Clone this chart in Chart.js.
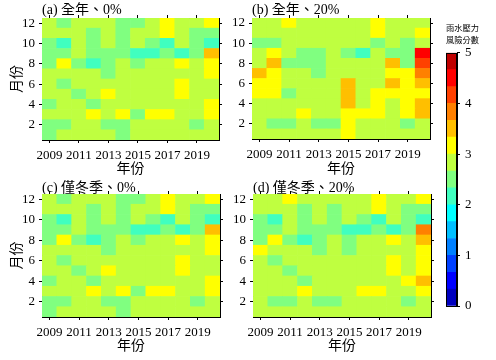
<!DOCTYPE html>
<html>
<head>
<meta charset="utf-8">
<script src="https://cdn.jsdelivr.net/npm/chart.js@4.4.0/dist/chart.umd.min.js"></script>
<style>
  body { margin: 0; background: #fff; }
  #wrap { position: relative; width: 496px; height: 360px; overflow: hidden; }
  canvas { position: absolute; }
</style>
</head>
<body>
<div id="wrap">
  <canvas id="panelA"></canvas>
  <canvas id="panelB"></canvas>
  <canvas id="panelC"></canvas>
  <canvas id="panelD"></canvas>
  <canvas id="colorBar"></canvas>
</div>
<script>
const years = ['2009', '2010', '2011', '2012', '2013', '2014', '2015', '2016', '2017', '2018', '2019', '2020'];
const months = [1, 2, 3, 4, 5, 6, 7, 8, 9, 10, 11, 12];
const monthTicks = [2, 4, 6, 8, 10, 12];
const scoreTicks = [0, 1, 2, 3, 4, 5];
const levelColors = ['#0000bf', '#0000ff', '#0040ff', '#0080ff', '#00bfff', '#00ffff', '#40ffbf', '#80ff80',
    '#bfff40', '#ffff00', '#ffbf00', '#ff8000', '#ff4000', '#ff0000', '#bf0000'];

// risk score per month (row = month 1..12), columns = years 2009..2020
const allYear0 = [
    [2.5, 2.8, 2.8, 2.8, 2.8, 2.5, 2.8, 2.8, 2.8, 2.8, 2.8, 2.8],
    [2.5, 2.5, 2.8, 2.8, 2.5, 2.5, 2.8, 2.8, 2.8, 2.8, 2.5, 2.8],
    [2.8, 2.8, 2.8, 3.2, 2.8, 3.2, 2.5, 3.2, 3.2, 2.8, 2.8, 3.2],
    [2.5, 2.8, 2.8, 2.5, 2.8, 2.8, 2.8, 2.8, 2.8, 2.8, 2.8, 3.2],
    [2.8, 2.8, 2.5, 2.8, 3.2, 2.8, 2.8, 2.8, 2.8, 3.2, 2.8, 2.8],
    [2.8, 2.5, 2.8, 2.8, 2.8, 2.8, 2.8, 2.8, 2.8, 3.2, 2.8, 2.8],
    [2.8, 2.8, 2.8, 2.8, 2.5, 2.8, 2.8, 2.8, 2.8, 2.8, 2.8, 3.2],
    [2.5, 3.2, 2.5, 2.2, 2.5, 2.8, 2.5, 2.8, 2.8, 3.2, 2.8, 3.2],
    [2.5, 2.5, 2.8, 2.5, 2.5, 2.5, 2.2, 2.2, 2.5, 2.2, 2.5, 3.5],
    [2.5, 2.2, 2.8, 2.5, 2.8, 2.5, 2.8, 2.5, 2.2, 2.8, 2.5, 2.2],
    [2.8, 2.8, 2.8, 2.5, 2.8, 2.5, 2.8, 2.8, 3.2, 2.8, 2.5, 2.5],
    [2.8, 2.5, 2.8, 2.8, 2.8, 2.5, 2.5, 2.8, 3.2, 2.8, 2.8, 3.2]
];

const allYear20 = [
    [2.8, 2.8, 2.8, 2.8, 2.8, 2.8, 3.2, 2.8, 2.8, 2.8, 2.8, 2.8],
    [2.8, 2.5, 2.5, 2.8, 2.5, 2.5, 3.2, 2.8, 2.8, 2.8, 2.5, 2.8],
    [2.8, 2.8, 2.8, 3.2, 2.8, 2.8, 3.2, 3.2, 3.2, 2.8, 3.2, 3.5],
    [2.8, 2.8, 2.8, 2.8, 2.8, 2.8, 3.5, 2.8, 3.2, 2.8, 3.2, 3.5],
    [3.2, 3.2, 2.5, 2.8, 2.8, 2.8, 3.5, 2.8, 3.2, 3.2, 3.2, 3.2],
    [3.2, 3.2, 2.8, 2.8, 2.8, 2.8, 3.5, 2.8, 2.8, 3.5, 3.2, 3.5],
    [3.5, 3.2, 2.8, 2.8, 2.5, 2.8, 2.8, 2.8, 2.8, 3.2, 3.2, 3.8],
    [2.8, 3.5, 2.5, 2.5, 2.5, 2.8, 2.8, 2.8, 2.8, 3.5, 2.5, 4.2],
    [2.8, 3.2, 2.8, 2.5, 2.5, 2.8, 2.5, 2.2, 2.8, 2.5, 2.5, 4.5],
    [2.5, 2.5, 2.8, 2.8, 2.8, 2.8, 2.8, 2.8, 2.5, 2.8, 2.5, 2.8],
    [2.8, 2.8, 2.8, 2.8, 2.8, 2.8, 2.8, 2.8, 3.2, 2.8, 2.8, 3.2],
    [2.8, 2.8, 3.2, 2.8, 2.8, 2.8, 2.8, 2.8, 3.2, 2.8, 2.8, 2.8]
];

const winter0 = allYear0;

const winter20 = [
    [2.8, 2.8, 2.8, 2.8, 2.8, 2.8, 2.8, 2.8, 2.8, 2.8, 2.8, 2.8],
    [2.8, 2.5, 2.5, 2.8, 2.5, 2.5, 2.8, 2.8, 2.8, 2.8, 2.5, 2.8],
    [2.8, 2.8, 2.8, 3.2, 2.8, 2.8, 2.8, 3.2, 3.2, 2.8, 2.8, 3.2],
    [2.8, 2.8, 2.8, 2.5, 2.8, 2.8, 2.8, 2.8, 2.8, 2.8, 3.2, 3.5],
    [2.8, 2.8, 2.5, 2.8, 2.8, 2.8, 2.8, 2.8, 2.8, 3.2, 2.8, 3.2],
    [2.8, 2.5, 2.8, 2.8, 2.8, 2.8, 2.8, 2.8, 2.8, 3.2, 2.8, 3.2],
    [3.2, 2.8, 2.8, 2.8, 2.5, 2.8, 2.5, 2.8, 2.8, 2.8, 2.8, 3.2],
    [2.5, 3.2, 2.5, 2.2, 2.5, 2.8, 2.5, 2.8, 2.8, 3.2, 2.8, 3.5],
    [2.5, 2.5, 2.8, 2.5, 2.5, 2.5, 2.2, 2.2, 2.5, 2.2, 2.5, 3.8],
    [2.5, 2.2, 2.8, 2.5, 2.8, 2.5, 2.8, 2.5, 2.2, 2.8, 2.5, 2.2],
    [2.8, 2.8, 2.8, 2.5, 2.8, 2.5, 2.8, 2.8, 3.2, 2.8, 2.5, 2.5],
    [2.8, 2.8, 3.2, 2.8, 2.8, 2.8, 2.8, 2.8, 3.2, 2.8, 2.8, 3.2]
];

const serif = "'Liberation Serif', 'Times New Roman', serif";
const cjk = "'Liberation Serif', 'Noto Sans CJK TC', serif";

function colorFor(v) {
    return levelColors[Math.max(0, Math.min(levelColors.length - 1, Math.floor(v * 3)))];
}

function place(canvas, box) {
    canvas.width = box.w;
    canvas.height = box.h;
    canvas.style.left = box.left + 'px';
    canvas.style.top = box.top + 'px';
}

function makePanel(id, title, grid, box, yTitle) {
    const canvas = document.getElementById(id);
    place(canvas, box);
    const monthAxis = function (scale) {
        scale.ticks = monthTicks.map(v => ({value: v}));
    };
    const yearTickColor = function (c) {
        return c.index % 2 === 0 ? '#000' : 'rgba(0,0,0,0)';
    };
    return new Chart(canvas, {
        type: 'bar',
        data: {
            labels: years,
            datasets: months.map((m, i) => ({
                label: 'month ' + m,
                data: years.map(() => [m - 0.5, m + 0.5]),
                backgroundColor: grid[i].map(colorFor),
                borderWidth: 0,
                grouped: false,
                barPercentage: 1,
                categoryPercentage: 1
            }))
        },
        options: {
            responsive: false,
            animation: false,
            devicePixelRatio: 1,
            layout: {padding: 0},
            plugins: {legend: {display: false}, tooltip: {enabled: false}},
            scales: {
                x: {
                    type: 'category',
                    position: 'bottom',
                    offset: true,
                    grid: {offset: false, drawOnChartArea: false, tickLength: 3, tickColor: yearTickColor},
                    border: {color: '#000'},
                    ticks: {
                        autoSkip: false, maxRotation: 0, minRotation: 0, padding: 5, color: '#000',
                        font: {family: serif, size: 13},
                        callback: function (val, i) {
                            return i % 2 === 0 ? this.getLabelForValue(val) : '';
                        }
                    },
                    title: {display: true, text: '年份', color: '#000', font: {family: cjk, size: 14},
                        padding: {top: 0, bottom: box.xTitlePad}},
                    afterFit: s => { s.height = box.h - box.topH - box.areaH; }
                },
                x2: {
                    type: 'category',
                    position: 'top',
                    offset: true,
                    grid: {offset: false, drawOnChartArea: false, tickLength: 3, tickColor: yearTickColor},
                    border: {color: '#000'},
                    ticks: {display: false},
                    title: {display: true, text: title, align: 'start', color: '#000',
                        font: {family: cjk, size: 14}, padding: {top: box.titlePad, bottom: 0}},
                    afterFit: s => { s.height = box.topH; }
                },
                y: {
                    type: 'linear',
                    position: 'left',
                    min: 0.5,
                    max: 12.5,
                    afterBuildTicks: monthAxis,
                    grid: {drawOnChartArea: false, tickLength: 3, tickColor: '#000'},
                    border: {color: '#000'},
                    ticks: {padding: 4, color: '#000', font: {family: serif, size: 13}},
                    title: {display: yTitle, text: '月份', color: '#000', font: {family: cjk, size: 14},
                        padding: {top: 9, bottom: 0}},
                    afterFit: s => { s.width = box.yW; }
                },
                y2: {
                    type: 'linear',
                    position: 'right',
                    min: 0.5,
                    max: 12.5,
                    afterBuildTicks: monthAxis,
                    grid: {drawOnChartArea: false, tickLength: 3, tickColor: '#000'},
                    border: {color: '#000'},
                    ticks: {display: false},
                    afterFit: s => { s.width = box.w - box.yW - box.areaW; }
                }
            }
        }
    });
}

makePanel('panelA', '(a) 全年、0%', allYear0,
    {left: 0, top: 0, w: 236, h: 178, yW: 42, topH: 18, areaW: 177, areaH: 122, titlePad: 2, xTitlePad: 0}, true);
makePanel('panelB', '(b) 全年、20%', allYear20,
    {left: 224, top: 0, w: 216, h: 178, yW: 28, topH: 18, areaW: 178, areaH: 121, titlePad: 2, xTitlePad: 0}, false);
makePanel('panelC', '(c) 僅冬季、0%', winter0,
    {left: 0, top: 178, w: 236, h: 182, yW: 42, topH: 16, areaW: 178, areaH: 123, titlePad: 2, xTitlePad: 5}, true);
makePanel('panelD', '(d) 僅冬季、20%', winter20,
    {left: 224, top: 178, w: 216, h: 182, yW: 29, topH: 16, areaW: 178, areaH: 123, titlePad: 2, xTitlePad: 5}, false);

// colour bar
const framePlugin = {
    id: 'frame',
    afterDatasetsDraw(chart) {
        const a = chart.chartArea;
        const ctx = chart.ctx;
        ctx.save();
        ctx.strokeStyle = '#000';
        ctx.lineWidth = 1;
        ctx.strokeRect(Math.round(a.left) + 0.5, Math.round(a.top) + 0.5,
            Math.round(a.right - a.left) - 1, Math.round(a.bottom - a.top));
        ctx.restore();
    }
};

const barCanvas = document.getElementById('colorBar');
place(barCanvas, {left: 423, top: 0, w: 56, h: 360});
new Chart(barCanvas, {
    type: 'bar',
    data: {
        labels: [''],
        datasets: levelColors.map((c, k) => ({
            data: [[k / 3, (k + 1) / 3]],
            backgroundColor: c,
            borderWidth: 0,
            grouped: false,
            barPercentage: 1,
            categoryPercentage: 1
        }))
    },
    options: {
        responsive: false,
        animation: false,
        devicePixelRatio: 1,
        layout: {padding: {left: 23, bottom: 54, top: 0, right: 0}},
        plugins: {
            legend: {display: false},
            tooltip: {enabled: false},
            title: {
                display: true,
                text: ['雨水壓力', '風險分數'],
                color: '#000',
                font: {family: "'Noto Sans CJK TC', serif", size: 8.5, weight: 'normal', lineHeight: 1.4},
                padding: {top: 22, bottom: 7}
            }
        },
        scales: {
            x: {display: false},
            y: {
                position: 'right',
                min: 0,
                max: 5,
                afterBuildTicks: s => { s.ticks = scoreTicks.map(v => ({value: v})); },
                grid: {drawOnChartArea: false, tickLength: 3, tickColor: '#000'},
                border: {color: '#000'},
                ticks: {padding: 5, color: '#000', font: {family: serif, size: 13}},
                afterFit: s => { s.width = 22; }
            }
        }
    },
    plugins: [framePlugin]
});
</script>
</body>
</html>
